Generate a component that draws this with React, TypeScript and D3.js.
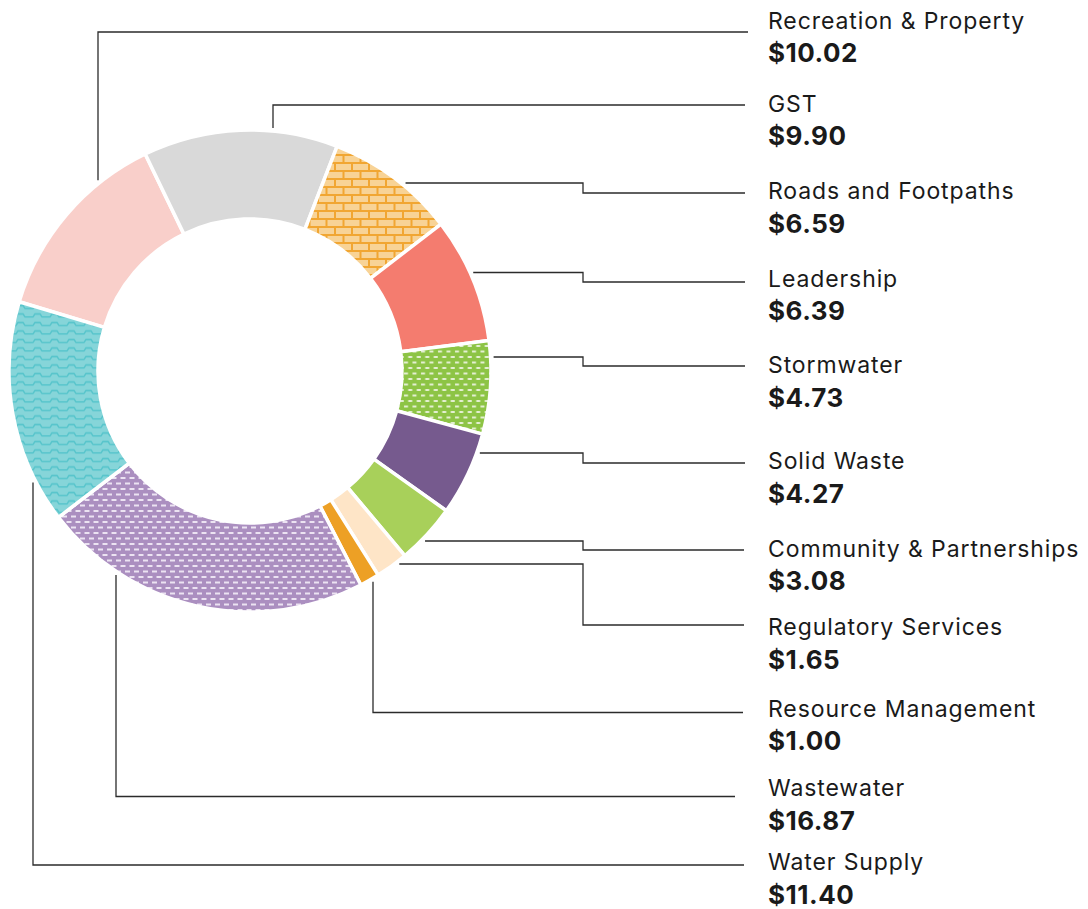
import React from 'react';
import * as d3 from 'd3';

// ---------- data ----------
const categories = [
  'Recreation & Property',
  'GST',
  'Roads and Footpaths',
  'Leadership',
  'Stormwater',
  'Solid Waste',
  'Community & Partnerships',
  'Regulatory Services',
  'Resource Management',
  'Wastewater',
  'Water Supply',
];
const values = [10.02, 9.9, 6.59, 6.39, 4.73, 4.27, 3.08, 1.65, 1.0, 16.87, 11.4];

// ---------- styles ----------
const fills = [
  '#f9cfca',
  '#d9d9d9',
  'url(#brick)',
  '#f47c6f',
  'url(#greenDash)',
  '#765a8e',
  '#a8d05a',
  '#fee5c7',
  '#eda025',
  'url(#purpleDash)',
  'url(#tealWave)',
];

// ---------- layout ----------
const W = 1088;
const H = 909;
const CX = 250;
const CY = 371;
const R_OUT = 241;
const R_IN = 152;
const START_DEG = -73.3;
const ANCHOR_R = 244;
const ELBOW_X = 583;
const TEXT_X = 768;
const VALUE_DY = 33.5;
// 'v' leaders leave the ring vertically at a given x; 'h' leaders horizontally at a given y
const leaderKind = ['v', 'v', 'h', 'h', 'h', 'h', 'h', 'h', 'v', 'v', 'v'];
const leaderPos = [98, 273, 183, 272.5, 357, 453, 541, 564, 373, 116, 33];
const leaderEndY = [32, 105, 193, 282, 366, 463, 550, 625, 712.5, 796.5, 865];
const leaderEndX = [748, 745, 745, 745, 745, 745, 744, 744, 743, 735, 744];
const nameY = [28.5, 111.5, 199.3, 286.7, 373.3, 469.3, 556.7, 635, 716.7, 796, 870];

const fmt = d3.format('$.2f');

export default function App() {
  const pie = d3
    .pie<number>()
    .sort(null)
    .value((d) => d)
    .startAngle((START_DEG * Math.PI) / 180)
    .endAngle((START_DEG * Math.PI) / 180 + 2 * Math.PI);
  const arcs = pie(values);
  const arc = d3.arc<d3.PieArcDatum<number>>().innerRadius(R_IN).outerRadius(R_OUT);

  const leaders = categories.map((_, i) => {
    const endY = leaderEndY[i];
    const endX = leaderEndX[i];
    if (leaderKind[i] === 'v') {
      const x = leaderPos[i];
      const dx = x - CX;
      const off = Math.sqrt(Math.max(0, ANCHOR_R * ANCHOR_R - dx * dx));
      const y = endY < CY ? CY - off : CY + off;
      const p = d3.path();
      p.moveTo(x, y);
      p.lineTo(x, endY);
      p.lineTo(endX, endY);
      return p.toString();
    }
    const y = leaderPos[i];
    const dy = y - CY;
    const x = CX + Math.sqrt(Math.max(0, ANCHOR_R * ANCHOR_R - dy * dy));
    const p = d3.path();
    p.moveTo(x, y);
    p.lineTo(ELBOW_X, y);
    p.lineTo(ELBOW_X, endY);
    p.lineTo(endX, endY);
    return p.toString();
  });

  return (
    <div style={{ position: 'absolute', left: 0, top: 0 }}>
      <svg width={W} height={H} style={{ display: 'block', background: '#fff' }}>
        <defs>
          <pattern id="brick" patternUnits="userSpaceOnUse" width={34} height={16} x={0} y={0}>
            <rect width={34} height={16} fill="#f1a632" />
            <rect x={1} y={1} width={15} height={6} fill="#f8d396" />
            <rect x={18} y={1} width={15} height={6} fill="#f8d396" />
            <rect x={-7.5} y={9} width={15} height={6} fill="#f8d396" />
            <rect x={9.5} y={9} width={15} height={6} fill="#f8d396" />
            <rect x={26.5} y={9} width={15} height={6} fill="#f8d396" />
          </pattern>
          <pattern id="greenDash" patternUnits="userSpaceOnUse" width={8.5} height={11}>
            <rect width={8.5} height={11} fill="#8dc445" />
            <rect x={1} y={1.5} width={4} height={2} fill="#e4efd2" />
            <rect x={5.25} y={7} width={4} height={2} fill="#e4efd2" />
            <rect x={-3.25} y={7} width={4} height={2} fill="#e4efd2" />
          </pattern>
          <pattern id="purpleDash" patternUnits="userSpaceOnUse" width={9} height={11}>
            <rect width={9} height={11} fill="#ab8fc0" />
            <rect x={1} y={1.5} width={5} height={2} fill="#ece3f2" />
            <rect x={5.5} y={7} width={5} height={2} fill="#ece3f2" />
            <rect x={-3.5} y={7} width={5} height={2} fill="#ece3f2" />
          </pattern>
          <pattern id="tealWave" patternUnits="userSpaceOnUse" width={17} height={8.5}>
            <rect width={17} height={8.5} fill="#86d5d9" />
            <path
              d="M0,5.5 H4 L6,2.5 H11 L13,5.5 H17"
              fill="none"
              stroke="#55c4cb"
              strokeWidth={1.5}
            />
          </pattern>
        </defs>

        <g>
          {arcs.map((a, i) => (
            <path
              key={categories[i]}
              d={arc(a) || ''}
              transform={`translate(${CX},${CY})`}
              fill={fills[i]}
              stroke="#fff"
              strokeWidth={3.5}
              strokeLinejoin="miter"
            />
          ))}
        </g>

        <g fill="none" stroke="#2b2b2b" strokeWidth={1.3}>
          {leaders.map((d, i) => (
            <path key={categories[i]} d={d} />
          ))}
        </g>

        <g fontFamily="Inter, 'Noto Sans', sans-serif" fill="#1a1a1a">
          {categories.map((c, i) => (
            <g key={c}>
              <text x={TEXT_X} y={nameY[i]} fontSize={23} letterSpacing={0.9}>
                {c}
              </text>
              <text
                x={TEXT_X}
                y={nameY[i] + VALUE_DY}
                fontSize={26}
                fontWeight={700}
                letterSpacing={0.5}
              >
                {fmt(values[i])}
              </text>
            </g>
          ))}
        </g>
      </svg>
    </div>
  );
}
